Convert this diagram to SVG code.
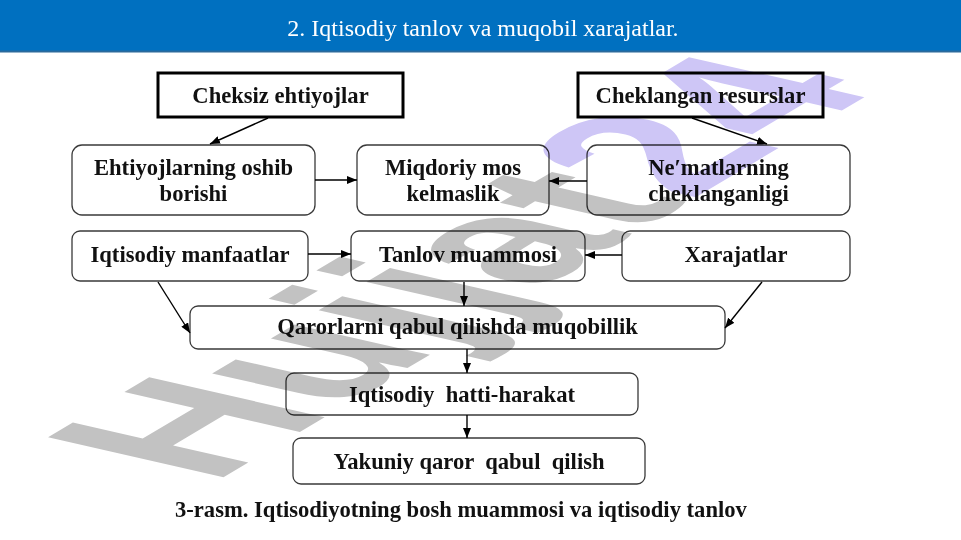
<svg xmlns="http://www.w3.org/2000/svg" width="961" height="540" viewBox="0 0 961 540">
<defs>
<style>
.sq{fill:#fff;stroke:#000;stroke-width:3}
.rb{fill:#fff;stroke:#3a3a3a;stroke-width:1.3}
.t{font-family:"Liberation Serif","Times New Roman",serif;font-weight:bold;font-size:22.6px;fill:#111;text-anchor:middle}
.c line{stroke:#000;stroke-width:1.4;marker-end:url(#ah)}
.wm{font-family:"Liberation Sans",Arial,sans-serif;font-weight:bold;font-size:100px;mix-blend-mode:multiply}
</style>
<marker id="ah" markerUnits="userSpaceOnUse" markerWidth="10" markerHeight="8" refX="10" refY="4" orient="auto">
<path d="M0,0 L10,4 L0,8 z" fill="#000"/>
</marker>
</defs>
<rect x="0" y="0" width="961" height="540" fill="#fff"/>
<g id="header">
<rect x="0" y="0" width="961" height="52" fill="#0070C0"/>
<line x1="0" y1="51.5" x2="961" y2="51.5" stroke="#2b6a9c" stroke-width="2"/>
<text x="483" y="36" font-family="'Liberation Serif','Times New Roman',serif" font-size="24" fill="#fff" text-anchor="middle">2. Iqtisodiy tanlov va muqobil xarajatlar.</text>
</g>
<g id="n1"><rect class="sq" x="158" y="73" width="245" height="44"/><text class="t" x="280.5" y="103">Cheksiz ehtiyojlar</text></g>
<g id="n2"><rect class="sq" x="578" y="73" width="245" height="44"/><text class="t" x="700.5" y="103">Cheklangan resurslar</text></g>
<g id="n3"><rect class="rb" x="72" y="145" width="243" height="70" rx="10"/><text class="t" x="193.5" y="175">Ehtiyojlarning oshib</text><text class="t" x="193.5" y="201">borishi</text></g>
<g id="n4"><rect class="rb" x="357" y="145" width="192" height="70" rx="10"/><text class="t" x="453" y="175">Miqdoriy mos</text><text class="t" x="453" y="201">kelmaslik</text></g>
<g id="n5"><rect class="rb" x="587" y="145" width="263" height="70" rx="10"/><text class="t" x="718.5" y="175">Ne′matlarning</text><text class="t" x="718.5" y="201">cheklanganligi</text></g>
<g id="n6"><rect class="rb" x="72" y="231" width="236" height="50" rx="8"/><text class="t" x="190" y="262">Iqtisodiy manfaatlar</text></g>
<g id="n7"><rect class="rb" x="351" y="231" width="234" height="50" rx="8"/><text class="t" x="468" y="262">Tanlov muammosi</text></g>
<g id="n8"><rect class="rb" x="622" y="231" width="228" height="50" rx="8"/><text class="t" x="736" y="262">Xarajatlar</text></g>
<g id="n9"><rect class="rb" x="190" y="306" width="535" height="43" rx="8"/><text class="t" x="457.5" y="334">Qarorlarni qabul qilishda muqobillik</text></g>
<g id="n10"><rect class="rb" x="286" y="373" width="352" height="42" rx="8"/><text class="t" x="462" y="402" xml:space="preserve">Iqtisodiy  hatti-harakat</text></g>
<g id="n11"><rect class="rb" x="293" y="438" width="352" height="46" rx="8"/><text class="t" x="469" y="469" xml:space="preserve">Yakuniy qaror  qabul  qilish</text></g>
<g id="connectors" class="c">
<line x1="268" y1="118" x2="210" y2="144"/>
<line x1="692" y1="118" x2="767" y2="144"/>
<line x1="315" y1="180" x2="357" y2="180"/>
<line x1="587" y1="181" x2="549" y2="181"/>
<line x1="308" y1="254" x2="351" y2="254"/>
<line x1="622" y1="255" x2="585" y2="255"/>
<line x1="158" y1="282" x2="190" y2="333"/>
<line x1="762" y1="282" x2="725" y2="328"/>
<line x1="464" y1="282" x2="464" y2="306"/>
<line x1="467" y1="349" x2="467" y2="373"/>
<line x1="467" y1="415" x2="467" y2="438"/>
</g>
<text class="t" x="175" y="517" style="text-anchor:start">3-rasm. Iqtisodiyotning bosh muammosi va iqtisodiy tanlov</text>
<text id="watermark" class="wm" transform="matrix(1.72 -1.02 2.55 0.58 212 484)"><tspan fill="#c2c2c2">Hujjat</tspan><tspan fill="#cec6f6">24</tspan></text>
</svg>
